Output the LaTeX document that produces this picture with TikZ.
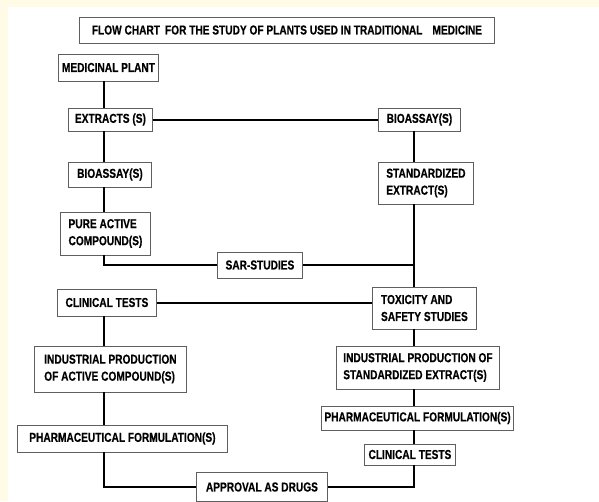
\documentclass[tikz,border=0pt]{standalone}
\usepackage{fontspec}
\newfontfamily\chartfont{Liberation Sans}[FakeStretch=0.78, BoldFeatures={FakeBold=0.4}]
\definecolor{cream}{RGB}{255,251,231}
\definecolor{boxgray}{RGB}{95,95,95}

\begin{document}
\begin{tikzpicture}[x=1pt, y=-1pt,
  box/.style={draw=boxgray, line width=0.9pt, fill=white, anchor=west, align=left,
    inner xsep=3pt, inner ysep=0pt, font=\chartfont\bfseries\fontsize{13}{17}\selectfont},
  link/.style={line width=2pt, black}]
  \useasboundingbox (0,0) rectangle (599,501);
  \fill[cream] (0,0) rectangle (599,501);
  \fill[white] (8,7) rectangle (599,501);
  \coordinate (lx) at (104,0);
  \coordinate (rx) at (414,0);
  \node[box, align=center, minimum width=415pt, minimum height=26pt] (title) at (79,30)
    {FLOW CHART\hspace{5pt}FOR THE STUDY OF PLANTS USED IN TRADITIONAL\hspace{10pt}MEDICINE};
  % left column
  \node[box, minimum width=100pt, minimum height=27pt] (plant) at (58,67.5) {MEDICINAL PLANT};
  \node[box, minimum width=84pt, minimum height=23pt] (extract) at (68,119.5) {EXTRACTS (S)};
  \node[box, minimum width=83pt, minimum height=25pt] (assayL) at (68,174.5) {BIOASSAY(S)};
  \node[box, minimum width=90pt, minimum height=43pt] (pure) at (60,233.5) {PURE ACTIVE\\COMPOUND(S)};
  \node[box, minimum width=85pt, minimum height=26pt] (sar) at (217,265) {SAR-STUDIES};
  \node[box, minimum width=99pt, minimum height=27pt] (clinL) at (57,302.5) {CLINICAL TESTS};
  \node[box, minimum width=152pt, minimum height=46pt] (prodL) at (34,369) {INDUSTRIAL PRODUCTION\\OF ACTIVE COMPOUND(S)};
  \node[box, minimum width=210pt, minimum height=27pt] (formL) at (17,438.5) {PHARMACEUTICAL FORMULATION(S)};
  \node[box, minimum width=131pt, minimum height=29pt] (approve) at (196,487) {APPROVAL AS DRUGS};
  % right column
  \node[box, minimum width=82pt, minimum height=23pt] (assayR) at (378,119.5) {BIOASSAY(S)};
  \node[box, minimum width=95pt, minimum height=42pt] (std) at (378,183) {STANDARDIZED\\EXTRACT(S)};
  \node[box, minimum width=104pt, minimum height=42pt] (tox) at (372,308) {TOXICITY AND\\SAFETY STUDIES};
  \node[box, minimum width=163pt, minimum height=43pt] (prodR) at (336,367.5) {INDUSTRIAL PRODUCTION OF\\STANDARDIZED EXTRACT(S)};
  \node[box, minimum width=192pt, minimum height=24pt] (formR) at (321,418) {PHARMACEUTICAL FORMULATION(S)};
  \node[box, minimum width=91pt, minimum height=21pt] (clinR) at (364,454.5) {CLINICAL TESTS};
  % connectors
  \draw[link] (plant.south -| lx) -- (extract.north -| lx);
  \draw[link] (extract.east) -- (extract.east -| assayR.west);
  \draw[link] (extract.south -| lx) -- (assayL.north -| lx);
  \draw[link] (assayL.south -| lx) -- (pure.north -| lx);
  \draw[link] (pure.south -| lx) |- (sar.west);
  \draw[link] (sar.east) -- (sar.east -| rx);
  \draw[link] (clinL.east) -- (clinL.east -| tox.west);
  \draw[link] (clinL.south -| lx) -- (prodL.north -| lx);
  \draw[link] (prodL.south -| lx) -- (formL.north -| lx);
  \draw[link] (formL.south -| lx) |- (approve.west);
  \draw[link] (assayR.south -| rx) -- (std.north -| rx);
  \draw[link] (std.south -| rx) -- (tox.north -| rx);
  \draw[link] (tox.south -| rx) -- (prodR.north -| rx);
  \draw[link] (prodR.south -| rx) -- (formR.north -| rx);
  \draw[link] (formR.south -| rx) -- (clinR.north -| rx);
  \draw[link] (clinR.south -| rx) |- (approve.east);
\end{tikzpicture}
\end{document}
